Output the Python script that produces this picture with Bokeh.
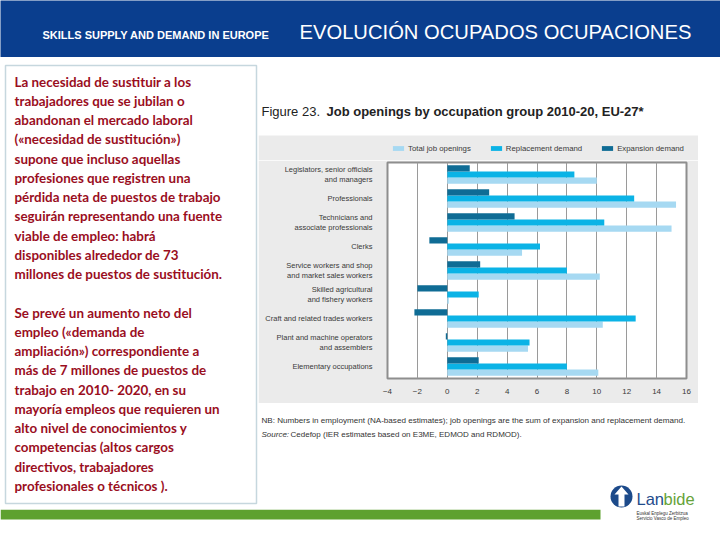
from bokeh.plotting import figure
from bokeh.models import Range1d, FactorRange, FixedTicker, Legend, LegendItem, ColumnDataSource
from bokeh.transform import dodge
from bokeh.layouts import column, row
from bokeh.core.properties import value
from bokeh.embed import file_html
from bokeh.resources import INLINE

# ---------------- data ----------------
categories = [
    "Legislators, senior officials\nand managers",
    "Professionals",
    "Technicians and\nassociate professionals",
    "Clerks",
    "Service workers and shop\nand market sales workers",
    "Skilled agricultural\nand fishery workers",
    "Craft and related trades workers",
    "Plant and machine operators\nand assemblers",
    "Elementary occupations",
]
expansion = [1.5, 2.8, 4.5, -1.2, 2.2, -2.0, -2.2, -0.1, 2.1]
replacement = [8.5, 12.5, 10.5, 6.2, 8.0, 2.1, 12.6, 5.5, 8.0]
total = [10.0, 15.3, 15.0, 5.0, 10.2, 0.1, 10.4, 5.4, 10.1]
x_ticks = [-4, -2, 0, 2, 4, 6, 8, 10, 12, 14, 16]
series_names = ["Total job openings", "Replacement demand", "Expansion demand"]

header_small = "SKILLS SUPPLY AND DEMAND IN EUROPE"
header_big = "EVOLUCIÓN OCUPADOS OCUPACIONES"
chart_title_a = "Figure 23."
chart_title_b = "Job openings by occupation group 2010-20, EU-27*"
note_1 = "NB:  Numbers in employment (NA-based estimates); job openings are the sum of expansion and replacement demand."
note_2a = "Source:"
note_2b = "Cedefop (IER estimates based on E3ME, EDMOD and RDMOD)."
para1 = [
    "La necesidad de sustituir a los",
    "trabajadores que se jubilan o",
    "abandonan el mercado laboral",
    "(«necesidad de sustitución»)",
    "supone que incluso aquellas",
    "profesiones que registren una",
    "pérdida neta de puestos de trabajo",
    "seguirán representando una fuente",
    "viable de empleo: habrá",
    "disponibles alrededor de 73",
    "millones de puestos de sustitución.",
]
para2 = [
    "Se prevé un aumento neto del",
    "empleo («demanda de",
    "ampliación») correspondiente a",
    "más de 7 millones de puestos de",
    "trabajo en 2010- 2020, en su",
    "mayoría empleos que requieren un",
    "alto nivel de conocimientos y",
    "competencias (altos cargos",
    "directivos, trabajadores",
    "profesionales o técnicos )."
]
logo_a = "Lan"
logo_b = "bide"
logo_sub = ["Euskal Enplegu Zerbitzua", "Servicio Vasco de Empleo"]

# ---------------- style ----------------
BLUE = "#0a3e8e"
RED = "#9a0e1e"
PANEL = "#ebebeb"
FONT = "Liberation Sans"
C_TOTAL = "#a6d9f2"
C_REPL = "#0bb3e6"
C_EXP = "#0f6c95"
COLORS = [C_TOTAL, C_REPL, C_EXP]


def canvas(w, h, bg):
    p = figure(width=w, height=h, x_range=Range1d(0, w), y_range=Range1d(h, 0),
               output_backend="svg", toolbar_location=None, tools="",
               x_axis_type=None, y_axis_type=None, min_border=0,
               background_fill_color=bg, border_fill_color=bg, outline_line_color=None)
    p.grid.visible = False
    p.frame_align = False
    return p


# header
hdr = canvas(720, 57, BLUE)
hdr.text(x=[42], y=[34], text=[header_small], text_font=value(FONT),
         text_font_size="11px", text_font_style="bold", text_color="white", text_baseline="middle")
hdr.text(x=[299], y=[31], text=[header_big], text_font=value(FONT),
         text_font_size="20.2px", text_color="white", text_baseline="middle")

# left text panel (x 0..258, y 57..509)
left = canvas(258, 452, "white")
left.quad(left=[5], right=[256], top=[8], bottom=[446], fill_color="white",
          line_color="#c6d7de", line_width=1.5)
left.text(x=[14] * len(para1), y=[24 + 19.25 * i for i in range(len(para1))], text=para1,
          text_font=value("Lato"), text_font_size="13.4px", text_font_style="bold",
          text_color=RED, text_baseline="middle")
left.text(x=[14] * len(para2), y=[255 + 19.25 * i for i in range(len(para2))], text=para2,
          text_font=value("Lato"), text_font_size="13.4px", text_font_style="bold",
          text_color=RED, text_baseline="middle")

# chart title + legend strip (x 258..698, y 57..160)
ttl = canvas(440, 103, "white")
ttl.text(x=[3], y=[54], text=[chart_title_a], text_font=value(FONT),
         text_font_size="13px", text_color="#222222", text_baseline="middle")
ttl.text(x=[68], y=[54], text=[chart_title_b], text_font=value(FONT),
         text_font_size="13px", text_font_style="bold", text_color="#222222", text_baseline="middle")
ttl.quad(left=[0], right=[440], top=[78], bottom=[103], fill_color=PANEL, line_color=None)
# legend swatch renderers (one off-canvas item each, so only the legend shows them)
swatches = [ttl.quad(left=[-50], right=[-40], top=[-50], bottom=[-40], fill_color=c, line_color=None)
            for c in COLORS]
legend = Legend(items=[LegendItem(label=n, renderers=[r]) for n, r in zip(series_names, swatches)],
                orientation="horizontal", location=(133, 7), padding=0, margin=0,
                spacing=18, glyph_width=14, glyph_height=6, label_standoff=3,
                background_fill_alpha=0, border_line_color=None,
                label_text_font=FONT, label_text_font_size="7.8px", label_text_color="#3a3a3a",
                label_height=10)
ttl.add_layout(legend, "center")

# chart (x 258..698, y 160..403)
src = ColumnDataSource(dict(cat=categories, exp=expansion, rep=replacement, tot=total))
p = figure(width=440, height=243, y_range=FactorRange(*reversed(categories)),
           x_range=Range1d(-4, 16), output_backend="svg", toolbar_location=None, tools="",
           min_border_left=129, min_border_right=12, min_border_top=2, min_border_bottom=25,
           background_fill_color="white", border_fill_color=PANEL,
           outline_line_color="#8e8e8e", outline_line_width=2)
bh = 0.26
r_tot = p.hbar(y=dodge("cat", -bh, range=p.y_range), right="tot", left=0, height=bh,
               source=src, fill_color=C_TOTAL, line_color=None)
r_rep = p.hbar(y=dodge("cat", 0, range=p.y_range), right="rep", left=0, height=bh,
               source=src, fill_color=C_REPL, line_color=None)
r_exp = p.hbar(y=dodge("cat", bh, range=p.y_range), right="exp", left=0, height=bh,
               source=src, fill_color=C_EXP, line_color=None)

p.xaxis.ticker = FixedTicker(ticks=x_ticks)
p.xgrid.ticker = FixedTicker(ticks=x_ticks)
p.xgrid.grid_line_color = "#9a9a9a"
p.xgrid.grid_line_width = 1
p.ygrid.grid_line_color = None
for ax in (p.xaxis[0], p.yaxis[0]):
    ax.axis_line_color = None
    ax.major_tick_line_color = None
    ax.minor_tick_line_color = None
    ax.major_label_text_font = FONT
    ax.major_label_text_color = "#3a3a3a"
p.xaxis.major_label_text_font_size = "8px"
p.yaxis.major_label_text_font_size = "7.5px"
p.xaxis.major_label_standoff = 4
p.yaxis.major_label_standoff = 9
p.yaxis.major_label_text_line_height = 1.2

# notes + logo (x 258..698, y 403..509)
notes = canvas(440, 106, "white")
notes.text(x=[3], y=[17], text=[note_1], text_font=value(FONT), text_font_size="8.1px",
           text_color="#333333", text_baseline="middle")
notes.text(x=[3], y=[31], text=[note_2a], text_font=value(FONT), text_font_size="8px",
           text_font_style="italic", text_color="#333333", text_baseline="middle")
notes.text(x=[32], y=[31], text=[note_2b], text_font=value(FONT), text_font_size="8px",
           text_color="#333333", text_baseline="middle")
notes.circle(x=[363], y=[93], radius=11, fill_color="#1c4a8a", line_color=None)
notes.patch(x=[363, 370, 366, 366, 360, 360, 356], y=[83, 91, 91, 103, 103, 91, 91],
            fill_color="white", line_color=None)
notes.text(x=[378], y=[95], text=[logo_a], text_font=value(FONT), text_font_size="16.5px",
           text_color="#1f4c8c", text_baseline="middle")
notes.text(x=[405], y=[95], text=[logo_b], text_font=value(FONT), text_font_size="16.5px",
           text_color="#66a33a", text_baseline="middle")

rpad = canvas(22, 452, "white")

# footer (y 509..540)
ftr = canvas(720, 31, "white")
ftr.quad(left=[0], right=[600], top=[0], bottom=[10], fill_color="#5ea12f", line_color=None)
ftr.text(x=[636, 636], y=[3.5, 8.5], text=logo_sub, text_font=value(FONT),
         text_font_size="4.5px", text_color="#333333", text_baseline="middle")

layout = column(hdr, row(left, column(ttl, p, notes, spacing=0), rpad, spacing=0), ftr, spacing=0)

open("out.html", "w").write(file_html(layout, INLINE))
